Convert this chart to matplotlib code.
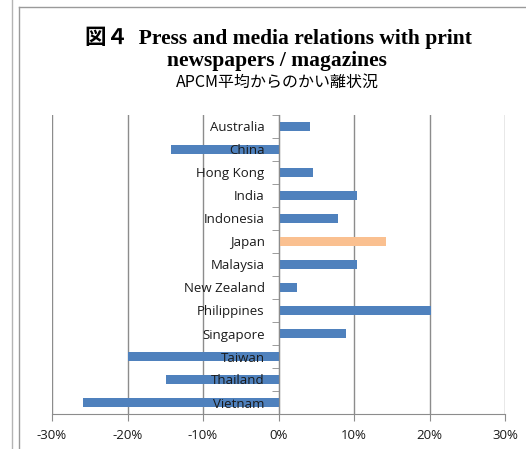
import matplotlib
matplotlib.use("Agg")
import matplotlib.pyplot as plt
from matplotlib.lines import Line2D
from matplotlib.ticker import FuncFormatter, FixedLocator

# deviation from APCM average (%)
countries = ["Australia", "China", "Hong Kong", "India", "Indonesia", "Japan",
             "Malaysia", "New Zealand", "Philippines", "Singapore", "Taiwan",
             "Thailand", "Vietnam"]
values = [4.2, -14.3, 4.6, 10.4, 7.9, 14.2, 10.4, 2.5, 20.2, 9.0, -20.0, -14.9, -25.9]
highlight = "Japan"

xticks = [-30, -20, -10, 0, 10, 20, 30]

blue = "#4f81bd"
orange = "#fac090"
grid_c = "#8c8c8c"

fig = plt.figure(figsize=(5.26, 4.49), dpi=100)
ax = fig.add_axes([52 / 526, 35 / 449, 453 / 526, 299 / 449])

ypos = list(range(len(countries)))
colors = [orange if c == highlight else blue for c in countries]
ax.barh(ypos, values, height=0.4, color=colors, zorder=3)

ax.set_xlim(-30, 30)
ax.set_ylim(len(countries) - 0.5, -0.5)
ax.set_xticks(xticks)
ax.xaxis.set_major_formatter(FuncFormatter(lambda v, p: f"{v:.0f}%"))
ax.grid(axis="x", color=grid_c, linewidth=1)
ax.tick_params(axis="x", length=5, color=grid_c, labelsize=9.5,
               labelcolor="#1a1a1a", pad=6)

# category axis sits on the 0% line, labels drawn over the bars
ax.xaxis.set_zorder(0.5)
ax.yaxis.set_zorder(4)
ax.spines["left"].set_position(("data", 0))
ax.spines["left"].set_color(grid_c)
ax.spines["left"].set_zorder(4)
ax.spines["bottom"].set_color(grid_c)
ax.spines["top"].set_visible(False)
ax.spines["right"].set_visible(False)
ax.set_yticks(ypos)
ax.set_yticklabels(countries)
ax.tick_params(axis="y", which="major", length=0, labelsize=9.5,
               labelcolor="#1a1a1a", pad=10)
ax.yaxis.set_minor_locator(FixedLocator([i + 0.5 for i in range(-1, len(countries))]))
ax.tick_params(axis="y", which="minor", length=5, color=grid_c)
for lab in ax.get_yticklabels() + ax.get_xticklabels():
    lab.set_family(["Open Sans", "DejaVu Sans"])

title_font = ["Liberation Serif", "Noto Sans CJK JP"]
fig.text(278 / 526, 1 - 38 / 449, "図４  Press and media relations with print",
         ha="center", va="center", fontsize=15.5, fontweight="bold", family=title_font)
fig.text(277 / 526, 1 - 61 / 449, "newspapers / magazines",
         ha="center", va="center", fontsize=15.5, fontweight="bold", family=title_font)
fig.text(277 / 526, 1 - 82 / 449, "APCM平均からのかい離状況",
         ha="center", va="center", fontsize=11.5, family=["Noto Sans CJK JP", "DejaVu Sans"])

# page / chart frame lines
fig.add_artist(Line2D([11.5 / 526, 11.5 / 526], [0, 1], color="#b4b4b4", lw=1))
fig.add_artist(Line2D([18.5 / 526, 18.5 / 526], [0, 1 - 7 / 449], color="#9a9a9a", lw=1))
fig.add_artist(Line2D([18.5 / 526, 1], [1 - 7 / 449, 1 - 7 / 449], color="#9a9a9a", lw=1))

fig.savefig("out.png", dpi=100)
